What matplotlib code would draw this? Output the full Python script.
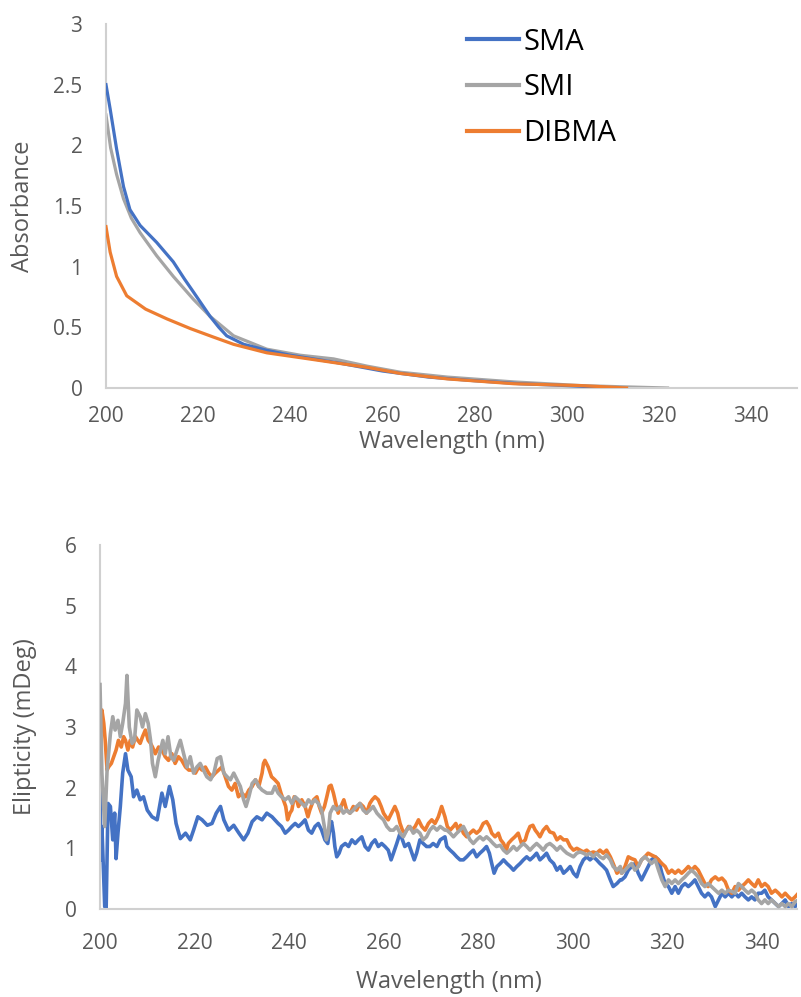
import matplotlib
matplotlib.use("Agg")
import matplotlib.pyplot as plt

plt.rcParams['font.family'] = ['Open Sans', 'DejaVu Sans']

# --- top panel: absorbance ---
wl_abs_sma = [200, 200.9, 202.3, 203.8, 205.2, 207.4, 211.0, 214.6, 217.0, 219.0, 222.6, 224.5,
              226.2, 229.9, 235, 240, 250, 260, 270, 280, 290, 300, 308, 310]
abs_sma = [2.50, 2.30, 1.97, 1.66, 1.47, 1.34, 1.20, 1.04, 0.90, 0.79, 0.59, 0.50,
           0.43, 0.36, 0.31, 0.27, 0.21, 0.14, 0.09, 0.06, 0.035, 0.02, 0.005, 0.0]

wl_abs_smi = [200, 201.0, 202.3, 203.8, 205.5, 207.4, 211.0, 214.6, 219.0, 222.6, 227.7, 234.9,
              242.2, 249.4, 256.7, 263.9, 274.1, 288.6, 303.0, 312.0, 321.9]
abs_smi = [2.25, 1.98, 1.76, 1.56, 1.40, 1.28, 1.09, 0.92, 0.73, 0.59, 0.43, 0.32,
           0.27, 0.24, 0.18, 0.13, 0.09, 0.05, 0.02, 0.01, 0.0]

wl_abs_dibma = [200, 200.9, 202.3, 204.5, 208.6, 213.2, 218.3, 223.3, 227.7, 234.9, 242.2,
                249.4, 256.7, 263.9, 274.1, 288.6, 303.0, 313.0]
abs_dibma = [1.33, 1.12, 0.92, 0.76, 0.65, 0.57, 0.49, 0.42, 0.36, 0.29, 0.25,
             0.21, 0.17, 0.12, 0.075, 0.035, 0.02, 0.0]

# --- bottom panel: ellipticity ---
wl_cd_sma = [200.0, 200.2, 200.4, 201.0, 201.3, 201.7, 202.2, 202.7, 203.1, 203.4, 203.8, 204.3,
             204.8, 205.4, 205.9, 206.6, 207.1, 207.8, 208.5, 209.2, 210.0, 211.0, 212.1, 213.1,
             213.8, 214.7, 215.4, 216.1, 217.0, 218.1, 219.1, 219.8, 220.7, 221.6, 222.7, 223.7,
             224.6, 225.5, 226.2, 227.2, 228.3, 229.4, 230.4, 231.3, 232.2, 233.2, 234.3, 235.3,
             236.4, 237.0, 237.7, 238.4, 239.2, 239.9, 240.6, 241.3, 242.0, 242.7, 243.4, 244.1,
             244.8, 245.5, 246.2, 246.9, 247.6, 248.2, 248.7, 249.0, 249.4, 249.7, 250.1, 250.6,
             251.1, 251.9, 252.6, 253.3, 254.0, 254.7, 255.4, 256.1, 256.8, 257.5, 258.2, 258.9,
             259.6, 260.3, 261.0, 261.6, 262.1, 262.8, 263.5, 264.0, 264.5, 265.3, 266.0, 266.5,
             267.0, 267.7, 268.4, 269.1, 269.8, 270.5, 271.3, 272.0, 273.0, 273.4, 274.1, 274.8,
             275.5, 276.2, 276.9, 277.6, 278.3, 279.0, 279.7, 280.4, 281.1, 281.8, 282.4, 282.9,
             283.4, 284.0, 284.7, 285.4, 286.1, 286.8, 287.5, 288.2, 288.9, 289.6, 290.3, 291.0,
             291.7, 292.4, 293.1, 293.8, 294.5, 295.2, 296.0, 296.7, 297.4, 298.1, 298.8, 299.5,
             300.2, 300.9, 301.6, 302.3, 303.0, 303.7, 304.4, 305.1, 305.8, 306.5, 307.2, 308.0,
             308.6, 309.4, 310.1, 310.4, 311.1, 311.8, 312.5, 313.2, 313.9, 314.6, 315.3, 316.0,
             316.7, 317.5, 318.2, 318.9, 319.6, 320.3, 321.0, 321.7, 322.4, 323.1, 323.8, 324.5,
             325.2, 325.9, 326.6, 327.3, 328.0, 328.7, 329.4, 330.2, 330.9, 331.6, 332.3, 333.0,
             333.7, 334.4, 335.1, 335.8, 336.5, 337.2, 337.9, 338.6, 339.3, 340.0, 340.7, 341.4,
             342.1, 342.9, 343.6, 344.3, 345.0, 345.7, 346.4, 347.1, 347.8]
cd_sma = [2.12, 0.81, 1.36, 0.04, 0.00, 1.74, 1.69, 1.14, 1.58, 0.83, 1.25, 1.69,
          2.24, 2.56, 2.29, 2.18, 1.85, 1.96, 1.80, 1.85, 1.63, 1.52, 1.47, 1.91,
          1.69, 2.02, 1.80, 1.41, 1.16, 1.25, 1.14, 1.30, 1.52, 1.47, 1.38, 1.41,
          1.58, 1.69, 1.47, 1.30, 1.38, 1.25, 1.14, 1.25, 1.44, 1.52, 1.47, 1.58,
          1.52, 1.47, 1.41, 1.36, 1.25, 1.30, 1.36, 1.41, 1.36, 1.41, 1.47, 1.30,
          1.25, 1.36, 1.41, 1.30, 1.14, 1.08, 1.36, 1.44, 1.25, 1.03, 0.86, 0.92,
          1.03, 1.08, 1.03, 1.14, 1.08, 1.14, 1.19, 1.03, 0.97, 1.08, 1.14, 1.03,
          1.08, 1.03, 0.97, 0.81, 0.92, 1.08, 1.25, 1.14, 1.03, 1.08, 0.92, 0.81,
          0.92, 1.14, 1.08, 1.03, 1.03, 1.08, 1.03, 1.14, 1.19, 1.03, 0.97, 0.92,
          0.86, 0.81, 0.81, 0.86, 0.92, 0.97, 0.86, 0.92, 0.97, 1.03, 0.92, 0.75,
          0.59, 0.70, 0.75, 0.81, 0.75, 0.70, 0.64, 0.70, 0.75, 0.81, 0.86, 0.81,
          0.86, 0.92, 0.81, 0.86, 0.92, 0.81, 0.75, 0.64, 0.70, 0.59, 0.64, 0.70,
          0.59, 0.53, 0.70, 0.81, 0.86, 0.81, 0.86, 0.81, 0.75, 0.70, 0.64, 0.48,
          0.37, 0.42, 0.48, 0.48, 0.53, 0.64, 0.70, 0.75, 0.59, 0.48, 0.59, 0.70,
          0.81, 0.86, 0.81, 0.59, 0.42, 0.37, 0.26, 0.37, 0.26, 0.37, 0.42, 0.37,
          0.42, 0.48, 0.37, 0.26, 0.20, 0.26, 0.20, 0.04, 0.15, 0.26, 0.20, 0.26,
          0.20, 0.26, 0.20, 0.26, 0.20, 0.15, 0.20, 0.15, 0.26, 0.26, 0.31, 0.20,
          0.15, 0.09, 0.04, 0.09, 0.15, 0.04, 0.09, 0.04, 0.09]

wl_cd_smi = [200.0, 200.4, 201.0, 201.5, 202.2, 202.7, 203.2, 203.8, 204.3, 204.8, 205.4, 205.7,
             206.2, 206.8, 207.3, 207.8, 208.5, 209.0, 209.6, 210.2, 210.7, 211.1, 211.7, 212.3,
             212.8, 213.3, 213.8, 214.4, 215.0, 215.6, 216.3, 217.0, 217.7, 218.4, 219.1, 219.8,
             220.5, 221.2, 221.9, 222.6, 223.4, 224.1, 224.8, 225.5, 226.2, 226.9, 227.6, 228.3,
             229.0, 229.7, 230.4, 230.9, 231.5, 232.2, 232.9, 233.6, 234.3, 235.3, 236.4, 237.0,
             237.7, 238.4, 239.2, 239.9, 240.6, 241.3, 242.0, 242.7, 243.4, 244.1, 244.8, 245.5,
             246.2, 246.9, 247.6, 247.9, 248.3, 248.7, 249.4, 250.1, 250.8, 251.5, 252.2, 252.9,
             253.6, 254.3, 255.0, 255.7, 256.4, 257.1, 257.8, 258.6, 259.3, 260.0, 260.7, 261.4,
             262.1, 262.8, 263.5, 264.2, 264.9, 265.6, 266.3, 267.0, 267.7, 268.4, 269.1, 269.8,
             270.5, 271.3, 272.0, 273.0, 273.4, 274.1, 274.8, 275.5, 276.2, 276.9, 277.6, 278.3,
             279.0, 279.7, 280.4, 281.1, 281.8, 282.5, 283.2, 283.9, 284.7, 285.4, 286.1, 286.8,
             287.5, 288.2, 288.9, 289.6, 290.3, 291.0, 291.7, 292.4, 293.1, 293.8, 294.5, 295.2,
             296.0, 296.7, 297.4, 298.1, 298.8, 299.5, 300.2, 300.9, 301.6, 302.3, 303.0, 303.7,
             304.4, 305.1, 305.8, 306.5, 307.2, 308.0, 308.6, 309.4, 310.1, 310.4, 311.1, 311.8,
             312.5, 313.2, 313.9, 314.6, 315.3, 316.0, 316.7, 317.5, 318.2, 318.9, 319.6, 320.3,
             321.0, 321.7, 322.4, 323.1, 323.8, 324.5, 325.2, 325.9, 326.6, 327.3, 328.0, 328.7,
             329.4, 330.2, 330.9, 331.6, 332.3, 333.0, 333.7, 334.4, 335.1, 335.8, 336.5, 337.2,
             337.9, 338.6, 339.3, 340.0, 340.7, 341.4, 342.1, 342.9, 343.6, 344.3, 345.0, 345.7,
             346.4, 347.1, 347.8]
cd_smi = [3.70, 2.24, 1.36, 2.29, 2.89, 3.17, 2.95, 3.11, 2.84, 3.06, 3.39, 3.85,
          3.00, 2.73, 2.78, 3.28, 3.17, 3.00, 3.22, 3.06, 2.78, 2.40, 2.18, 2.45,
          2.62, 2.78, 2.56, 2.84, 2.51, 2.45, 2.62, 2.78, 2.56, 2.34, 2.51, 2.24,
          2.34, 2.40, 2.29, 2.18, 2.13, 2.24, 2.48, 2.51, 2.24, 2.18, 2.13, 2.24,
          2.13, 2.02, 1.80, 1.69, 1.85, 2.07, 2.13, 2.02, 1.96, 1.91, 1.91, 2.02,
          1.91, 1.85, 1.80, 1.85, 1.74, 1.85, 1.80, 1.74, 1.69, 1.80, 1.74, 1.80,
          1.74, 1.63, 1.30, 1.14, 1.25, 1.58, 1.69, 1.63, 1.69, 1.58, 1.63, 1.58,
          1.63, 1.69, 1.74, 1.63, 1.58, 1.63, 1.69, 1.58, 1.52, 1.47, 1.36, 1.30,
          1.30, 1.36, 1.25, 1.19, 1.30, 1.36, 1.25, 1.30, 1.25, 1.14, 1.19, 1.30,
          1.36, 1.30, 1.36, 1.30, 1.30, 1.25, 1.19, 1.25, 1.30, 1.36, 1.25, 1.14,
          1.08, 1.14, 1.19, 1.14, 1.19, 1.14, 1.08, 1.03, 1.05, 0.97, 0.92, 0.97,
          1.03, 0.97, 1.03, 1.08, 1.03, 0.97, 1.03, 1.08, 1.03, 0.97, 1.05, 1.08,
          1.03, 0.97, 1.03, 0.97, 0.92, 0.89, 0.86, 0.92, 0.94, 0.92, 0.89, 0.92,
          0.86, 0.92, 0.86, 0.83, 0.89, 0.81, 0.70, 0.64, 0.70, 0.59, 0.64, 0.70,
          0.75, 0.64, 0.70, 0.81, 0.86, 0.81, 0.75, 0.81, 0.64, 0.48, 0.37, 0.48,
          0.42, 0.48, 0.42, 0.48, 0.53, 0.59, 0.64, 0.59, 0.53, 0.42, 0.37, 0.42,
          0.37, 0.31, 0.26, 0.31, 0.26, 0.31, 0.29, 0.26, 0.42, 0.37, 0.31, 0.26,
          0.31, 0.26, 0.15, 0.09, 0.15, 0.09, 0.15, 0.09, 0.04, 0.09, 0.04, 0.09,
          0.04, 0.12, 0.15]

wl_cd_dibma = [200.0, 200.4, 200.8, 201.1, 201.5, 201.8, 202.4, 202.9, 203.4, 203.9, 204.5, 205.0,
               205.4, 205.9, 206.4, 206.9, 207.5, 208.0, 208.5, 209.0, 209.6, 210.2, 210.7, 211.1,
               211.7, 212.4, 213.1, 213.8, 214.5, 215.2, 215.9, 216.6, 217.3, 218.1, 218.8, 219.5,
               220.2, 220.9, 221.6, 222.3, 223.0, 223.7, 224.4, 225.1, 225.8, 226.5, 227.2, 227.9,
               228.6, 229.3, 230.0, 230.8, 231.5, 232.2, 232.9, 233.6, 234.3, 234.6, 234.9, 235.6,
               236.3, 237.0, 237.7, 238.3, 238.8, 239.3, 239.7, 240.2, 240.6, 241.1, 241.6, 242.0,
               242.7, 243.4, 244.0, 244.4, 245.2, 245.9, 246.4, 246.9, 247.5, 248.0, 248.5, 248.9,
               249.4, 249.9, 250.4, 251.0, 251.6, 252.2, 252.9, 253.6, 254.3, 255.0, 255.7, 256.4,
               257.1, 257.6, 258.2, 258.9, 259.5, 260.0, 260.5, 261.0, 261.7, 262.4, 263.0, 263.5,
               264.0, 264.5, 265.3, 266.0, 266.7, 267.4, 268.1, 268.8, 269.5, 270.2, 270.9, 271.6,
               272.3, 273.0, 273.5, 274.1, 274.8, 275.3, 275.8, 276.3, 276.9, 277.6, 278.3, 279.0,
               279.7, 280.4, 281.1, 281.8, 282.4, 282.9, 283.6, 284.3, 284.8, 285.4, 286.0, 286.4,
               287.1, 287.8, 288.5, 289.2, 290.0, 290.4, 291.0, 291.6, 292.1, 292.6, 293.1, 293.8,
               294.5, 295.2, 296.0, 296.7, 297.4, 298.1, 298.8, 299.5, 300.2, 300.9, 301.6, 302.3,
               303.0, 303.7, 304.4, 305.1, 305.8, 306.5, 307.2, 308.0, 308.6, 309.4, 310.1, 310.4,
               311.1, 311.8, 312.5, 313.2, 313.9, 314.6, 315.3, 316.0, 316.7, 317.5, 318.2, 318.9,
               319.6, 320.3, 321.0, 321.7, 322.4, 323.1, 323.8, 324.5, 325.2, 325.9, 326.6, 327.3,
               328.0, 328.7, 329.4, 330.2, 330.9, 331.6, 332.3, 333.0, 333.7, 334.4, 335.1, 335.8,
               336.5, 337.2, 337.9, 338.6, 339.3, 340.0, 340.7, 341.4, 342.1, 342.9, 343.6, 344.3,
               345.0, 345.7, 346.4, 347.1, 347.8]
cd_dibma = [2.60, 3.28, 3.06, 2.78, 2.29, 2.34, 2.40, 2.51, 2.62, 2.78, 2.67, 2.84,
            2.78, 2.62, 2.78, 2.67, 2.84, 2.78, 2.73, 2.84, 2.95, 2.78, 2.73, 2.67,
            2.56, 2.67, 2.62, 2.51, 2.45, 2.56, 2.40, 2.51, 2.45, 2.34, 2.29, 2.29,
            2.24, 2.34, 2.29, 2.34, 2.24, 2.18, 2.24, 2.29, 2.34, 2.18, 2.02, 1.96,
            2.07, 1.85, 1.91, 1.85, 1.96, 2.02, 2.13, 2.02, 2.24, 2.40, 2.45, 2.34,
            2.18, 2.13, 2.07, 1.91, 1.80, 1.69, 1.47, 1.58, 1.63, 1.85, 1.80, 1.69,
            1.80, 1.69, 1.52, 1.63, 1.80, 1.85, 1.69, 1.58, 1.69, 1.85, 2.02, 2.04,
            1.91, 1.74, 1.58, 1.69, 1.80, 1.63, 1.58, 1.69, 1.63, 1.74, 1.69, 1.58,
            1.74, 1.80, 1.85, 1.80, 1.69, 1.58, 1.52, 1.47, 1.58, 1.69, 1.58, 1.41,
            1.30, 1.25, 1.36, 1.30, 1.36, 1.47, 1.36, 1.30, 1.41, 1.47, 1.41, 1.52,
            1.69, 1.52, 1.36, 1.30, 1.36, 1.41, 1.30, 1.38, 1.25, 1.19, 1.25, 1.30,
            1.25, 1.30, 1.41, 1.44, 1.36, 1.25, 1.19, 1.25, 1.14, 1.08, 0.97, 1.08,
            1.14, 1.19, 1.25, 1.08, 1.14, 1.25, 1.36, 1.38, 1.30, 1.25, 1.19, 1.30,
            1.36, 1.27, 1.25, 1.14, 1.19, 1.14, 1.14, 1.03, 0.97, 1.00, 0.97, 0.94,
            0.97, 0.92, 0.94, 0.92, 0.97, 0.92, 0.97, 0.86, 0.75, 0.59, 0.64, 0.59,
            0.70, 0.86, 0.83, 0.81, 0.70, 0.81, 0.86, 0.92, 0.89, 0.86, 0.81, 0.75,
            0.70, 0.59, 0.64, 0.59, 0.64, 0.59, 0.64, 0.70, 0.64, 0.70, 0.64, 0.53,
            0.42, 0.37, 0.48, 0.53, 0.48, 0.51, 0.45, 0.31, 0.26, 0.37, 0.31, 0.37,
            0.42, 0.48, 0.42, 0.37, 0.48, 0.37, 0.42, 0.37, 0.26, 0.31, 0.26, 0.20,
            0.26, 0.20, 0.15, 0.20, 0.26]

labels = ['SMA', 'SMI', 'DIBMA']
colors = ['#4472C4', '#A5A5A5', '#ED7D31']
tick_color = '#595959'
axis_color = '#D0D0D0'

W, H = 801, 997
fig = plt.figure(figsize=(W / 100, H / 100), dpi=100)
ax1 = fig.add_axes([106 / W, 1 - 388 / H, (797 - 106) / W, (388 - 24) / H])
ax2 = fig.add_axes([100 / W, 1 - 909 / H, (797 - 100) / W, (909 - 545) / H])


def style(ax, xpad):
    for side in ['top', 'right']:
        ax.spines[side].set_visible(False)
    for side in ['left', 'bottom']:
        ax.spines[side].set_color(axis_color)
        ax.spines[side].set_linewidth(1.5)
    ax.tick_params(length=0, pad=17, labelsize=15, labelcolor=tick_color)
    ax.tick_params(axis='x', pad=xpad)
    ax.set_xticks(range(200, 341, 20))


# top chart
ax1.plot(wl_abs_sma, abs_sma, color=colors[0], lw=2.3, label=labels[0], zorder=3)
ax1.plot(wl_abs_smi, abs_smi, color=colors[1], lw=2.3, label=labels[1], zorder=2)
ax1.plot(wl_abs_dibma, abs_dibma, color=colors[2], lw=2.3, label=labels[2], zorder=4)
ax1.set_xlim(200, 350)
ax1.set_ylim(0, 3)
ax1.set_yticks([0, 0.5, 1, 1.5, 2, 2.5, 3])
ax1.set_yticklabels(['0', '0.5', '1', '1.5', '2', '2.5', '3'])
style(ax1, 13)
ax1.set_xlabel('Wavelength (nm)', fontsize=17, color=tick_color, va='center')
ax1.xaxis.set_label_coords(0.5, (388 - 442) / 364)
ax1.set_ylabel('Absorbance', fontsize=17, color=tick_color, va='center')
ax1.yaxis.set_label_coords((23 - 106) / 691, 0.5)
leg = ax1.legend(loc='upper left', bbox_to_anchor=((455 - 106) / (797 - 106), 1.022),
                 frameon=False, fontsize=21, handlelength=1.8, handletextpad=0.15,
                 labelspacing=0.57, borderaxespad=0)
for line in leg.get_lines():
    line.set_linewidth(3)

# bottom chart
ax2.plot(wl_cd_sma, cd_sma, color=colors[0], lw=2.6, zorder=2)
ax2.plot(wl_cd_dibma, cd_dibma, color=colors[2], lw=2.6, zorder=3)
ax2.plot(wl_cd_smi, cd_smi, color=colors[1], lw=2.6, zorder=4)
ax2.set_xlim(200, 347.5)
ax2.set_ylim(0, 6)
ax2.set_yticks(range(0, 7))
style(ax2, 17)
ax2.set_xlabel('Wavelength (nm)', fontsize=17, color=tick_color, va='center')
ax2.xaxis.set_label_coords(0.5, (909 - 982) / 364)
ax2.set_ylabel('Elipticity (mDeg)', fontsize=17, color=tick_color, va='center')
ax2.yaxis.set_label_coords((25 - 100) / 697, 0.5)

fig.savefig('out.png', dpi=100, facecolor='white')
